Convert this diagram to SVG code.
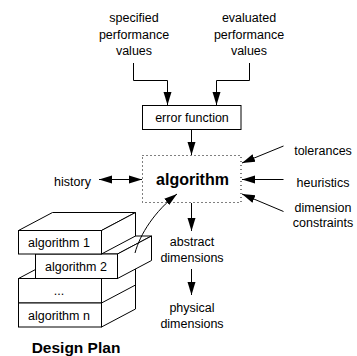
<svg xmlns="http://www.w3.org/2000/svg" width="357" height="356" viewBox="0 0 357 356">
  <style>
    text { font-family: "Liberation Sans", Arial, sans-serif; font-size: 12.5px; fill: #000; text-anchor: middle; }
    .bold { font-weight: bold; }
    .big { font-size: 16px; }
    .title { font-size: 15.5px; }
    .line { fill: none; stroke: #000; stroke-width: 1; }
    .box { fill: #fff; stroke: #000; stroke-width: 1; }
    .dotted { fill: none; stroke: #000; stroke-width: 1; stroke-dasharray: 1 3; }
  </style>
  <defs>
    <marker id="arrow" markerUnits="userSpaceOnUse" markerWidth="14" markerHeight="10" viewBox="0 0 14 10" refX="13" refY="5" orient="auto">
      <path d="M0,1 L13,5 L0,9 Z" fill="#000"/>
    </marker>
    <marker id="arrowStart" markerUnits="userSpaceOnUse" markerWidth="14" markerHeight="10" viewBox="0 0 14 10" refX="1" refY="5" orient="auto">
      <path d="M14,1 L1,5 L14,9 Z" fill="#000"/>
    </marker>
  </defs>

  <rect width="357" height="356" fill="#fff"/>

  <!-- input labels -->
  <g id="specified">
    <text x="134" y="22">specified</text>
    <text x="134" y="38.5">performance</text>
    <text x="134" y="55">values</text>
  </g>
  <g id="evaluated">
    <text x="249" y="22">evaluated</text>
    <text x="249" y="38.5">performance</text>
    <text x="249" y="55">values</text>
  </g>

  <g id="error-function">
    <rect class="box" x="142.5" y="105.5" width="98.5" height="24"/>
    <text x="192" y="122">error function</text>
  </g>

  <g id="algorithm">
    <rect class="dotted" x="142.5" y="155.5" width="98.5" height="47"/>
    <text class="bold big" x="192.5" y="185">algorithm</text>
  </g>

  <g id="history"><text x="72.5" y="186">history</text></g>
  <g id="tolerances"><text x="323" y="155">tolerances</text></g>
  <g id="heuristics"><text x="323" y="186.5">heuristics</text></g>
  <g id="dimension-constraints">
    <text x="323" y="211.5">dimension</text>
    <text x="323" y="227">constraints</text>
  </g>
  <g id="abstract-dimensions">
    <text x="192" y="245.5">abstract</text>
    <text x="192" y="261.5">dimensions</text>
  </g>
  <g id="physical-dimensions">
    <text x="192" y="311.5">physical</text>
    <text x="192" y="327.5">dimensions</text>
  </g>

  <!-- design plan stack, drawn back to front -->
  <g id="design-plan">
    <g id="algorithm-n-stack">
      <polygon class="box" points="18.5,278.5 52.5,260.5 135.5,260.5 101.5,278.5"/>
      <polygon class="box" points="101.5,278.5 135.5,260.5 135.5,309 101.5,327"/>
      <line class="line" x1="101.5" y1="303" x2="135.5" y2="285"/>
      <rect class="box" x="18.5" y="278.5" width="83" height="24.5"/>
      <rect class="box" x="18.5" y="303" width="83" height="24"/>
      <text x="59" y="295">...</text>
      <text x="59" y="320">algorithm n</text>
    </g>
    <g id="algorithm-2">
      <polygon class="box" points="35.5,254 69.5,236 151.5,236 117.5,254"/>
      <polygon class="box" points="117.5,254 151.5,236 151.5,260.5 117.5,278.5"/>
      <rect class="box" x="35.5" y="254" width="82" height="24.5"/>
      <text x="76" y="271">algorithm 2</text>
    </g>
    <g id="algorithm-1">
      <polygon class="box" points="18.5,230.5 52.5,212.5 135.5,212.5 101.5,230.5"/>
      <polygon class="box" points="101.5,230.5 135.5,212.5 135.5,236 101.5,254"/>
      <rect class="box" x="18.5" y="230.5" width="83" height="23.5"/>
      <text x="59" y="247">algorithm 1</text>
    </g>
    <text class="bold title" x="76" y="353">Design Plan</text>
  </g>

  <g id="connectors">
    <path class="line" d="M133.5,63 V80.5 H167.5 V105" marker-end="url(#arrow)"/>
    <path class="line" d="M249.5,63 V80.5 H216.5 V105" marker-end="url(#arrow)"/>
    <path class="line" d="M191.5,129.5 V155" marker-end="url(#arrow)"/>
    <path class="line" d="M99,179.5 H142" marker-start="url(#arrowStart)" marker-end="url(#arrow)"/>
    <path class="line" d="M283.5,146 L242,163" marker-end="url(#arrow)"/>
    <path class="line" d="M283.5,179.5 H242" marker-end="url(#arrow)"/>
    <path class="line" d="M283.5,211.5 L242,194" marker-end="url(#arrow)"/>
    <path class="line" d="M191.5,203 V231" marker-end="url(#arrow)"/>
    <path class="line" d="M191.5,269 V295" marker-end="url(#arrow)"/>
    <path class="line" d="M135,253 C140,234 155,211 177,194" marker-end="url(#arrow)"/>
  </g>
</svg>
